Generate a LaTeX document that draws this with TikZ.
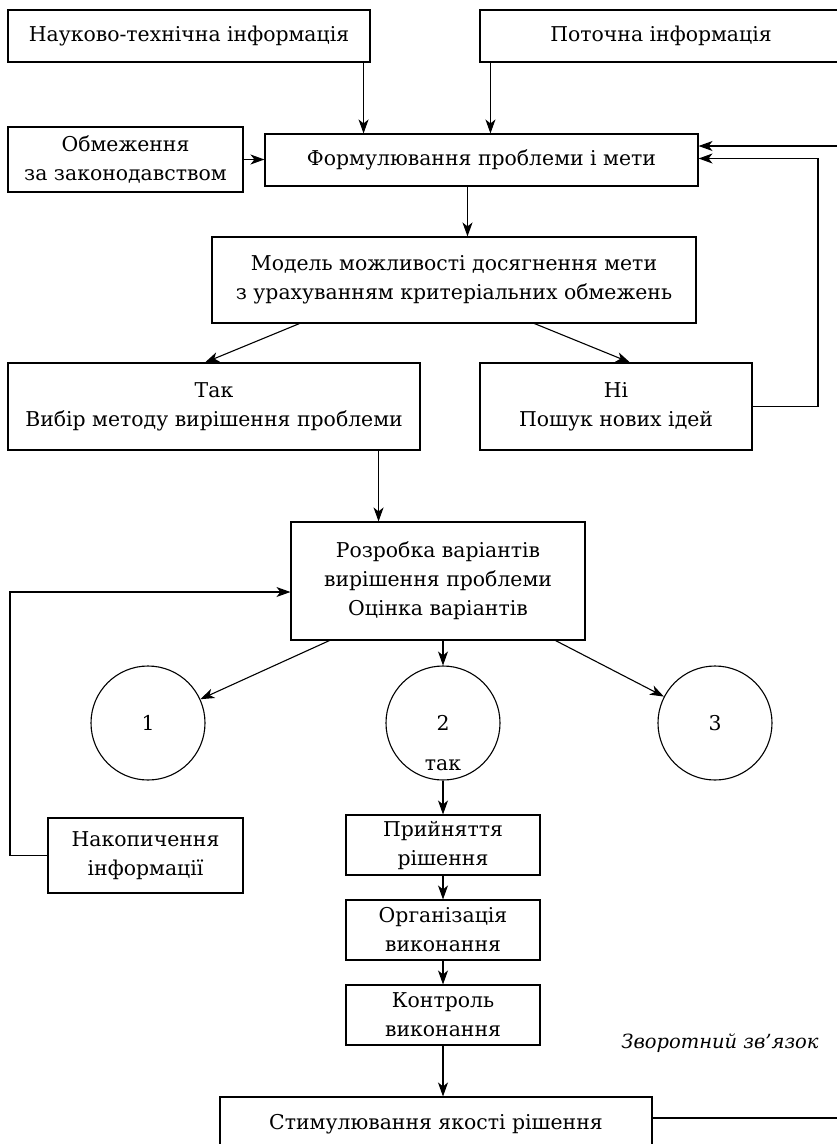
\documentclass[tikz,border=0pt]{standalone}
\usepackage{fontspec}
\setmainfont{DejaVu Serif}
\usetikzlibrary{arrows.meta}
\begin{document}
\begin{tikzpicture}[x=1pt,y=-1pt,
  every node/.style={font=\fontsize{20.4}{29}\selectfont},
  blk/.style={draw,line width=1.1pt,align=center,inner sep=0pt},
  circ/.style={draw,line width=1.1pt,circle,minimum size=114pt,inner sep=0pt},
  arr/.style={line width=1.1pt,-{Stealth[length=14pt,width=10pt,inset=4pt]}},
  ln/.style={line width=1.1pt}]
\useasboundingbox (0,0) rectangle (836,1144);

% input boxes
\node[blk,minimum width=362pt,minimum height=52pt] (sci) at (189,36) {Науково-технічна інформація};
\node[blk,minimum width=362pt,minimum height=52pt] (cur) at (661,36) {Поточна інформація};
\node[blk,minimum width=235pt,minimum height=65pt] (law) at (125.5,159.5) {Обмеження\\за законодавством};
\node[blk,minimum width=433pt,minimum height=52pt] (form) at (481.5,160) {Формулювання проблеми і мети};

% goal model and branches
\node[blk,minimum width=484pt,minimum height=86pt] (model) at (454,280) {Модель можливості досягнення мети\\з урахуванням критеріальних обмежень};
\node[blk,minimum width=412pt,minimum height=87pt] (yes) at (214,406.5) {Так\\Вибір методу вирішення проблеми};
\node[blk,minimum width=272pt,minimum height=87pt] (no) at (616,406.5) {Ні\\Пошук нових ідей};

% variants
\node[blk,minimum width=294pt,minimum height=118pt] (var) at (438,581) {Розробка варіантів\\вирішення проблеми\\Оцінка варіантів};
\node[circ] (c1) at (148,723) {1};
\node[circ] (c2) at (443,723) {2};
\node[circ] (c3) at (715,723) {3};
\node (yes2) at (443,765) {так};

% decision chain
\node[blk,minimum width=195pt,minimum height=75pt] (acc) at (145.5,855.5) {Накопичення\\інформації};
\node[blk,minimum width=194pt,minimum height=60pt] (dec) at (443,845) {Прийняття\\рішення};
\node[blk,minimum width=194pt,minimum height=60pt] (org) at (443,930) {Організація\\виконання};
\node[blk,minimum width=194pt,minimum height=60pt] (ctl) at (443,1015) {Контроль\\виконання};
\node[blk,minimum width=432pt,minimum height=56pt] (stim) at (436,1125) {\raisebox{6pt}{Стимулювання якості рішення}};
\node[font=\fontsize{19.5}{28}\selectfont\itshape] (fb) at (720,1043) {Зворотний зв’язок};

% routing coordinates
\coordinate (rx) at (840,0);
\coordinate (nx) at (818,0);
\coordinate (lx) at (10,0);

% connectors
\draw[arr] ([xshift=-7pt]sci.south east) -- ([xshift=-7pt]sci.south east |- form.north);
\draw[arr] ([xshift=11pt]cur.south west) -- ([xshift=11pt]cur.south west |- form.north);
\draw[arr] (law.east) -- (law.east -| form.west);
\draw[arr] ([xshift=-14pt]form.south) -- ([xshift=-14pt]form.south |- model.north);
\draw[arr] ([xshift=88pt]model.south west) -- ([xshift=-9pt]yes.north);
\draw[arr] ([xshift=323pt]model.south west) -- ([xshift=14pt]no.north);
\draw[arr] (no.east) -- (no.east -| nx) |- ([yshift=1.5pt]form.east);
\draw[arr] ([xshift=-42pt]yes.south east) -- ([xshift=-42pt]yes.south east |- var.north);
\draw[arr] (acc.west) -- (acc.west -| lx) |- ([yshift=-11pt]var.west);
\draw[arr] ([xshift=39pt]var.south west) -- (c1);
\draw[arr] (c2 |- var.south) -- (c2.north);
\draw[arr] ([xshift=-30pt]var.south east) -- (c3);
\draw[arr] (c2.south) -- (dec.north);
\draw[arr] (dec.south) -- (org.north);
\draw[arr] (org.south) -- (ctl.north);
\draw[arr] (ctl.south) -- (ctl.south |- stim.north);
\draw[arr] (stim.east |- 0,1118) -- (rx |- 0,1118) -- (rx |- 0,146) -- (form.east |- 0,146);
\end{tikzpicture}
\end{document}
